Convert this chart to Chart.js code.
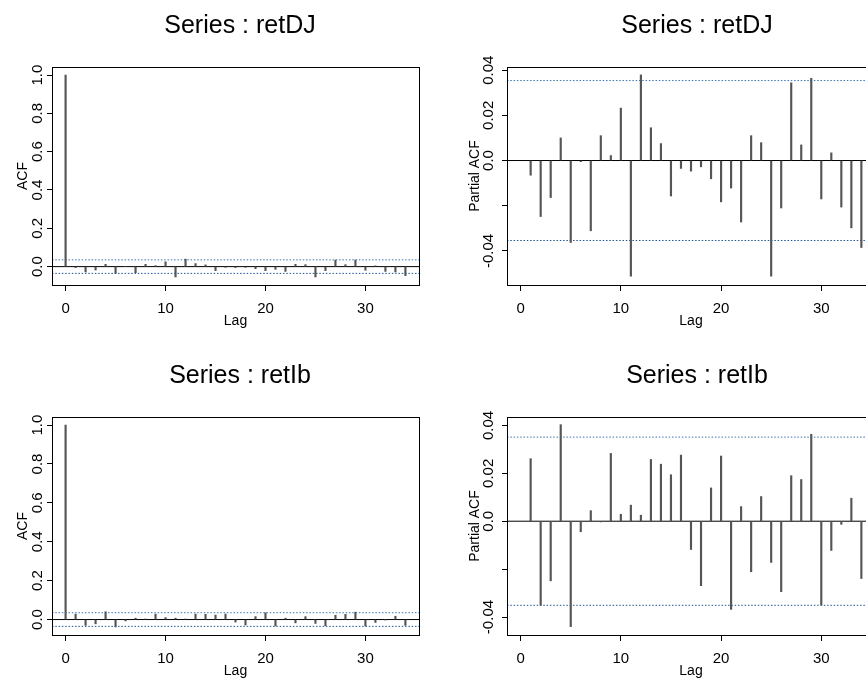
<!DOCTYPE html>
<html>
<head>
<meta charset="utf-8">
<script src="https://cdn.jsdelivr.net/npm/chart.js@4/dist/chart.umd.min.js"></script>
<style>
  body { margin: 0; width: 866px; height: 681px; overflow: hidden; background: #fff; position: relative; }
  canvas { position: absolute; }
</style>
</head>
<body>
<canvas id="acfDJ" width="480" height="330" style="left:0;top:0"></canvas>
<canvas id="pacfDJ" width="484" height="330" style="left:455px;top:0"></canvas>
<canvas id="acfIb" width="480" height="330" style="left:0;top:350px"></canvas>
<canvas id="pacfIb" width="484" height="330" style="left:455px;top:350px"></canvas>
<script>
// lags
const acfLags = [0, 1, 2, 3, 4, 5, 6, 7, 8, 9, 10, 11, 12, 13, 14, 15, 16, 17, 18, 19, 20,
  21, 22, 23, 24, 25, 26, 27, 28, 29, 30, 31, 32, 33, 34];
const pacfLags = [1, 2, 3, 4, 5, 6, 7, 8, 9, 10, 11, 12, 13, 14, 15, 16, 17, 18, 19, 20,
  21, 22, 23, 24, 25, 26, 27, 28, 29, 30, 31, 32, 33, 34];

// autocorrelations of retDJ
const acfDJ = [1.0, -0.005, -0.028, -0.018, 0.012, -0.035, 0.000, -0.032, 0.012, 0.005, 0.025,
  -0.054, 0.039, 0.016, 0.009, -0.021, -0.004, -0.005, -0.004, -0.011, -0.021,
  -0.014, -0.025, 0.012, 0.010, -0.054, -0.021, 0.034, 0.010, 0.034, -0.019,
  0.004, -0.025, -0.028, -0.047];
const pacfDJ = [-0.0065, -0.0248, -0.0164, 0.0100, -0.0363, -0.0005, -0.0311, 0.0110, 0.0022, 0.0232,
  -0.0512, 0.0379, 0.0145, 0.0075, -0.0157, -0.0035, -0.0047, -0.0028, -0.0081, -0.0183,
  -0.0122, -0.0272, 0.0110, 0.0079, -0.0512, -0.0210, 0.0344, 0.0069, 0.0364, -0.0170,
  0.0034, -0.0206, -0.0298, -0.0385];

// autocorrelations of retIb
const acfIb = [1.0, 0.028, -0.030, -0.022, 0.040, -0.038, -0.007, 0.007, 0.003, 0.028, 0.010,
  0.007, 0.003, 0.028, 0.027, 0.023, 0.028, -0.013, -0.028, 0.015, 0.035,
  -0.033, 0.007, -0.017, 0.015, -0.020, -0.032, 0.022, 0.027, 0.038, -0.033,
  -0.015, -0.002, 0.017, -0.030];
const pacfIb = [0.0261, -0.0351, -0.0249, 0.0403, -0.0440, -0.0044, 0.0044, -0.0003, 0.0283, 0.0029,
  0.0067, 0.0025, 0.0258, 0.0238, 0.0194, 0.0276, -0.0118, -0.0269, 0.0139, 0.0272,
  -0.0368, 0.0061, -0.0211, 0.0103, -0.0172, -0.0294, 0.0190, 0.0174, 0.0363, -0.0350,
  -0.0122, -0.0013, 0.0096, -0.0239];

// 95% bounds
const confDJ = 0.0354;
const confIb = 0.0351;

// axis limits and ticks
const lagRange = [-1.36, 35.36];
const lagTicks = [0, 10, 20, 30];
const acfTicks = [0, 0.2, 0.4, 0.6, 0.8, 1.0];
const pacfTicks = [-0.04, -0.02, 0, 0.02, 0.04];
const pacfLabelled = [-0.04, 0, 0.02, 0.04];
const acfRangeDJ = [-0.096, 1.042];
const pacfRangeDJ = [-0.0551, 0.0414];
const acfRangeIb = [-0.0795, 1.0415];
const pacfRangeIb = [-0.0475, 0.0435];

Chart.defaults.font.family = "'Liberation Sans', Arial, Helvetica, sans-serif";
Chart.defaults.color = '#000';

const plotBox = {
  id: 'plotBox',
  afterDatasetsDraw(chart) {
    const { ctx, chartArea: a } = chart;
    ctx.save();
    ctx.strokeStyle = '#000';
    ctx.lineWidth = 1;
    ctx.strokeRect(Math.round(a.left) + 0.5, Math.round(a.top) + 0.5,
      Math.round(a.width), Math.round(a.height));
    ctx.restore();
  }
};

const hline = (y, color, dash) => ({
  type: 'line',
  data: [{ x: lagRange[0], y: y }, { x: lagRange[1], y: y }],
  borderColor: color,
  borderWidth: 1,
  borderDash: dash,
  pointRadius: 0,
  order: 2
});

// rightGap: empty strip right of the plot, so the title centres a little to the right of the box
function drawPanel(id, title, lags, values, conf, yRange, yTicks, partial, rightGap) {
  const labelFor = partial
    ? (v) => (pacfLabelled.includes(v) ? (v === 0 ? '0.0' : v.toFixed(2)) : '')
    : (v) => v.toFixed(1);

  new Chart(document.getElementById(id), {
    type: 'bar',
    data: {
      datasets: [
        {
          type: 'bar',
          data: lags.map((l, i) => ({ x: l, y: values[i] })),
          backgroundColor: '#555',
          barThickness: 1.5,
          order: 1
        },
        hline(0, '#000', []),
        hline(conf, '#3a73b5', [1.5, 1.8]),
        hline(-conf, '#1f5499', [1.5, 1.8])
      ]
    },
    options: {
      responsive: false,
      animation: false,
      devicePixelRatio: 1,
      layout: { padding: 0 },
      plugins: {
        legend: { display: false },
        tooltip: { enabled: false },
        title: {
          display: true,
          text: title,
          font: { size: 25, weight: 'normal' },
          padding: { top: 11, bottom: 26 }
        }
      },
      scales: {
        x: {
          type: 'linear',
          min: lagRange[0],
          max: lagRange[1],
          offset: false,
          afterBuildTicks: (ax) => { ax.ticks = lagTicks.map((v) => ({ value: v })); },
          afterFit: (ax) => { ax.height = 45; },
          grid: { drawOnChartArea: false, drawTicks: true, tickLength: 6, color: '#000', offset: false },
          border: { display: false },
          ticks: { padding: 9, font: { size: 15 }, maxRotation: 0, autoSkip: false },
          title: { display: true, text: 'Lag', font: { size: 14 }, padding: 0 }
        },
        y: {
          type: 'linear',
          min: yRange[0],
          max: yRange[1],
          afterBuildTicks: (ax) => { ax.ticks = yTicks.map((v) => ({ value: v })); },
          afterFit: (ax) => { ax.width = 52; },
          grid: { drawOnChartArea: false, drawTicks: true, tickLength: 5, color: '#000' },
          border: { display: false },
          ticks: {
            minRotation: 90,
            maxRotation: 90,
            crossAlign: 'center',
            padding: partial ? -3.5 : -1.4,
            font: { size: 15 },
            autoSkip: false,
            callback: labelFor
          },
          title: {
            display: true,
            text: partial ? 'Partial ACF' : 'ACF',
            font: { size: 14 },
            padding: { top: partial ? 11.6 : 15, bottom: 0 }
          }
        },
        gap: {
          type: 'linear',
          position: 'right',
          grid: { display: false },
          border: { display: false },
          ticks: { display: false },
          afterFit: (ax) => { ax.width = rightGap; }
        }
      }
    },
    plugins: [plotBox]
  });
}

drawPanel('acfDJ', 'Series : retDJ', acfLags, acfDJ, confDJ, acfRangeDJ, acfTicks, false, 61);
drawPanel('pacfDJ', 'Series : retDJ', pacfLags, pacfDJ, confDJ, pacfRangeDJ, pacfTicks, true, 64);
drawPanel('acfIb', 'Series : retIb', acfLags, acfIb, confIb, acfRangeIb, acfTicks, false, 61);
drawPanel('pacfIb', 'Series : retIb', pacfLags, pacfIb, confIb, pacfRangeIb, pacfTicks, true, 64);
</script>
</body>
</html>
